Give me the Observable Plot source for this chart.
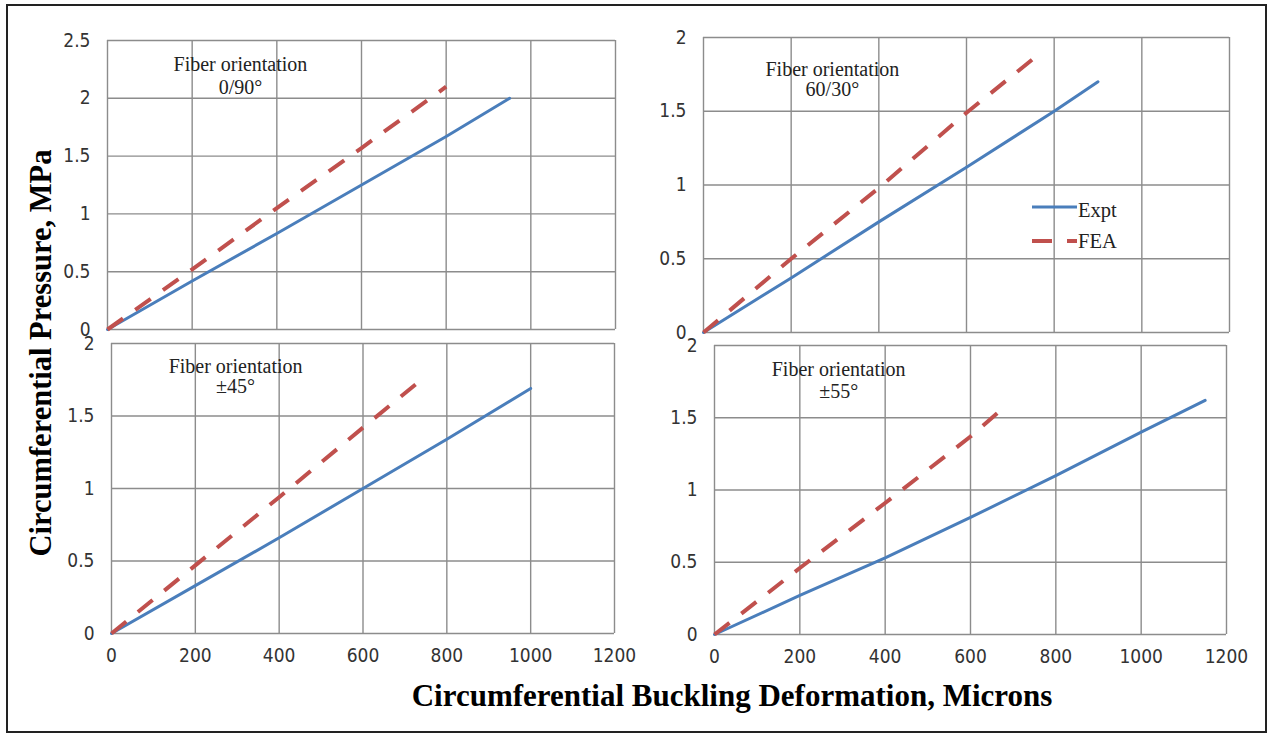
<!DOCTYPE html>
<html><head><meta charset="utf-8">
<script src="https://cdn.jsdelivr.net/npm/d3@7"></script>
<script src="https://cdn.jsdelivr.net/npm/@observablehq/plot@0.6"></script>
<style>
html,body{margin:0;padding:0;background:#fff;}
#wrap{position:relative;width:1268px;height:734px;overflow:hidden;background:#fff;}
#frame{position:absolute;left:6px;top:4px;width:1261px;height:729px;border:2.5px solid #222;box-sizing:border-box;}
.panel{position:absolute;}
.panel svg{overflow:visible;}
#ytitle{position:absolute;width:520px;height:36px;line-height:36px;text-align:center;font:bold 30.5px "Liberation Serif","Times New Roman",serif;color:#000;transform:rotate(-90deg);white-space:nowrap;}
#xtitle{position:absolute;width:800px;height:30px;line-height:30px;text-align:center;font:bold 31px "Liberation Serif","Times New Roman",serif;color:#000;white-space:nowrap;}
</style>
</head><body>
<div id="wrap">
  <div id="frame"></div>
  <div id="ytitle">Circumferential Pressure, MPa</div>
  <div id="xtitle">Circumferential Buckling Deformation, Microns</div>
</div>
<script>
// ---- data ----
const xTicks = [0, 200, 400, 600, 800, 1000, 1200];
const yTicksTop = [0, 0.5, 1, 1.5, 2, 2.5];
const yTicks = [0, 0.5, 1, 1.5, 2];
const seriesNames = ["Expt", "FEA"];

// Fiber orientation 0/90°
const expt_0_90 = [[0,0],[200,0.42],[400,0.83],[600,1.25],[800,1.67],[950,2.0]];
const fea_0_90  = [[0,0],[200,0.52],[400,1.05],[600,1.57],[800,2.1]];
// Fiber orientation 60/30°
const expt_60_30 = [[0,0],[200,0.37],[400,0.75],[600,1.12],[800,1.5],[900,1.70]];
const fea_60_30  = [[0,0],[200,0.5],[400,0.98],[600,1.49],[750,1.85]];
// Fiber orientation ±45°
const expt_45 = [[0,0],[200,0.33],[400,0.66],[600,1.0],[800,1.34],[1000,1.69]];
const fea_45  = [[0,0],[200,0.47],[400,0.94],[600,1.42],[735,1.74]];
// Fiber orientation ±55°
const expt_55 = [[0,0],[200,0.27],[400,0.53],[600,0.81],[800,1.1],[1000,1.4],[1150,1.62]];
const fea_55  = [[0,0],[200,0.46],[400,0.91],[600,1.37],[670,1.55]];

// panel labels (text, anchor in data units)
const notes_0_90  = [{t:"Fiber orientation", x:314, y:2.29}, {t:"0/90°", x:314, y:2.09}];
const notes_60_30 = [{t:"Fiber orientation", x:294, y:1.78}, {t:"60/30°", x:294, y:1.645}];
const notes_45    = [{t:"Fiber orientation", x:296, y:1.84}, {t:"±45°", x:296, y:1.70}];
const notes_55    = [{t:"Fiber orientation", x:291, y:1.835}, {t:"±55°", x:291, y:1.68}];

// ---- style ----
const BLUE = "#4a7ebb", RED = "#c0504d", GRID = "#8c8c8c";
const SERIF = "'Liberation Serif','Times New Roman',serif";
const NUMFONT = "'Liberation Sans Narrow','Arial Narrow','DejaVu Sans Condensed',sans-serif";
const DASH = "19,15";

const wrap = document.getElementById("wrap");

function panel(o) {
  const ml = 80, mr = 20, mt = 20, mb = 45;
  const chart = Plot.plot({
    width: o.pr - o.pl + ml + mr,
    height: o.pb - o.pt + mt + mb,
    marginLeft: ml, marginRight: mr, marginTop: mt, marginBottom: mb,
    style: {background: "transparent", fontFamily: NUMFONT, fontSize: "19px", color: "#333", overflow: "visible"},
    x: {domain: [0, 1200], ticks: xTicks, tickSize: 0, tickPadding: 15, tickFormat: d => String(d), label: null, axis: o.showX ? "bottom" : null},
    y: {domain: o.yDomain, ticks: o.yTicks, tickSize: 0, tickPadding: 17, tickFormat: d => String(d), label: null},
    marks: [
      Plot.ruleX(xTicks, {stroke: GRID, strokeWidth: 1.4, strokeOpacity: 1}),
      Plot.ruleY(o.yTicks, {stroke: GRID, strokeWidth: 1.4, strokeOpacity: 1}),
      Plot.line(o.expt, {x: d => d[0], y: d => d[1], stroke: BLUE, strokeWidth: 3}),
      Plot.line(o.fea, {x: d => d[0], y: d => d[1], stroke: RED, strokeWidth: 4, strokeDasharray: DASH, strokeLinecap: "butt"}),
      Plot.text(o.notes, {x: "x", y: "y", text: "t", fontFamily: SERIF, fontSize: 20, fill: "#222", textAnchor: "middle", lineAnchor: "middle"})
    ]
  });
  const div = document.createElement("div");
  div.className = "panel";
  div.style.left = (o.pl - ml) + "px";
  div.style.top = (o.pt - mt) + "px";
  div.appendChild(chart);
  wrap.appendChild(div);
}

panel({pl:107, pr:615, pt:39.5, pb:328.5, yDomain:[0,2.5], yTicks:yTicksTop, showX:false, expt:expt_0_90, fea:fea_0_90, notes:notes_0_90});
panel({pl:703, pr:1229, pt:37, pb:332, yDomain:[0,2], yTicks:yTicks, showX:false, expt:expt_60_30, fea:fea_60_30, notes:notes_60_30});
panel({pl:111, pr:614, pt:343, pb:633, yDomain:[0,2], yTicks:yTicks, showX:true, expt:expt_45, fea:fea_45, notes:notes_45});
panel({pl:714, pr:1226, pt:345, pb:634, yDomain:[0,2], yTicks:yTicks, showX:true, expt:expt_55, fea:fea_55, notes:notes_55});

// axis titles
const yt = document.getElementById("ytitle");
yt.style.left = (42 - 260) + "px";
yt.style.top = (353 - 18) + "px";
const xt = document.getElementById("xtitle");
xt.style.left = (732 - 400) + "px";
xt.style.top = "678px";

// legend
const lg = d3.select(wrap).append("svg")
  .attr("width", 120).attr("height", 70)
  .style("position", "absolute").style("left", "1020px").style("top", "190px");
const legendRows = [
  {name: seriesNames[0], color: BLUE, w: 3, dash: null, y: 17, ty: 20},
  {name: seriesNames[1], color: RED, w: 4, dash: "20,15", y: 51, ty: 51}
];
legendRows.forEach(r => {
  lg.append("line").attr("x1", 12).attr("x2", 57).attr("y1", r.y).attr("y2", r.y)
    .attr("stroke", r.color).attr("stroke-width", r.w)
    .attr("stroke-dasharray", r.dash);
  lg.append("text").attr("x", 58).attr("y", r.ty).attr("dy", "0.32em")
    .attr("font-family", SERIF).attr("font-size", 20.5).attr("fill", "#222")
    .text(r.name);
});
</script>
</body></html>
